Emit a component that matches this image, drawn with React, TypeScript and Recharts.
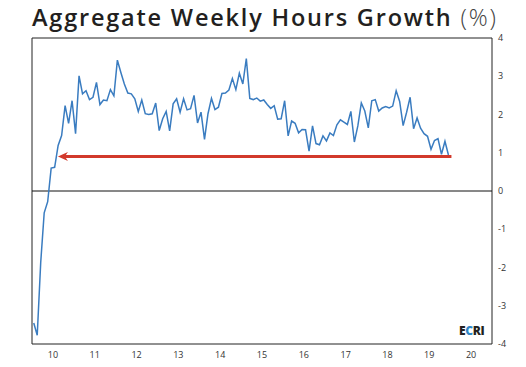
import React from 'react';
import {
  LineChart,
  Line,
  XAxis,
  YAxis,
  ReferenceLine,
  ReferenceArea,
} from 'recharts';

// monthly readings, Jan 2010 .. Dec 2019 (yoy %)
const START_YEAR = 2010;
const hoursGrowth = [
  -3.45, -3.77, -1.87, -0.57, -0.28, 0.6, 0.62, 1.19, 1.45, 2.23, 1.77, 2.36,
  1.5, 3.01, 2.54, 2.62, 2.39, 2.45, 2.84, 2.26, 2.38, 2.36, 2.65, 2.49,
  3.42, 3.1, 2.8, 2.56, 2.54, 2.41, 2.08, 2.38, 2.02, 2.0, 2.02, 2.3,
  1.58, 1.89, 2.08, 1.57, 2.28, 2.41, 2.06, 2.41, 2.12, 2.15, 2.5, 1.78,
  2.06, 1.35, 2.02, 2.42, 2.13, 2.19, 2.55, 2.56, 2.64, 2.94, 2.65, 3.08,
  2.8, 3.46, 2.42, 2.39, 2.43, 2.35, 2.38, 2.26, 2.16, 2.23, 1.88, 1.89,
  2.36, 1.44, 1.83, 1.77, 1.52, 1.61, 1.6, 1.04, 1.7, 1.24, 1.21, 1.44,
  1.31, 1.52, 1.45, 1.73, 1.86, 1.8, 1.74, 2.08, 1.28, 1.7, 2.3, 2.09,
  1.65, 2.36, 2.39, 2.09, 2.17, 2.21, 2.17, 2.22, 2.62, 2.34, 1.71, 2.06,
  2.45, 1.63, 1.91, 1.64, 1.5, 1.43, 1.09, 1.32, 1.37, 0.96, 1.3, 0.94,
];

const yearBreaks = [2011, 2012, 2013, 2014, 2015, 2016, 2017, 2018, 2019, 2020];
const yearLabelPos = [2010.5, 2011.5, 2012.5, 2013.5, 2014.5, 2015.5, 2016.5, 2017.5, 2018.5, 2019.5, 2020.5];
const yTicks = [-4, -3, -2, -1, 0, 1, 2, 3, 4];

// red arrow annotation (data coords)
const arrowLevel = 0.9;
const arrowFrom = 2020.03;
const arrowTo = 2010.62;

const data = hoursGrowth.map((v, i) => ({ t: START_YEAR + (i + 0.5) / 12, v }));

const FONT = '"Open Sans", "Noto Sans", sans-serif';
const tickStyle = { fontSize: 9, fill: '#333', fontFamily: FONT };

const NoLabel = () => <g />;

function Arrow(props: any) {
  const { x1, y1, x2 } = props;
  const tip = Math.min(x1, x2);
  const end = Math.max(x1, x2);
  const y = y1;
  return (
    <g>
      <line x1={tip + 6} y1={y} x2={end} y2={y} stroke="#d2392b" strokeWidth={3} />
      <polygon
        points={`${tip},${y} ${tip + 10},${y - 4.5} ${tip + 7},${y} ${tip + 10},${y + 4.5}`}
        fill="#d2392b"
      />
    </g>
  );
}

export default function App() {
  return (
    <div style={{ position: 'absolute', left: 0, top: 0, width: 526, height: 367, background: '#fff' }}>
      <div
        style={{
          position: 'absolute',
          left: 32,
          top: 6,
          fontFamily: FONT,
          fontSize: 23.5,
          lineHeight: 1,
          fontWeight: 600,
          letterSpacing: 1.8,
          color: '#231f20',
          whiteSpace: 'nowrap',
        }}
      >
        Aggregate Weekly Hours Growth <span style={{ fontWeight: 300, color: '#444' }}>(%)</span>
      </div>
      <LineChart
        width={526}
        height={367}
        data={data}
        margin={{ top: 38, left: 32, right: 4, bottom: 3 }}
        style={{ position: 'absolute', left: 0, top: 0 }}
      >
        <XAxis
          xAxisId="marks"
          dataKey="t"
          type="number"
          domain={[2010, 2021]}
          ticks={yearBreaks}
          mirror
          height={0}
          tickSize={4}
          tick={NoLabel}
          axisLine={{ stroke: '#222' }}
          tickLine={{ stroke: '#222' }}
        />
        <XAxis
          xAxisId="years"
          dataKey="t"
          type="number"
          domain={[2010, 2021]}
          ticks={yearLabelPos}
          height={20}
          tickSize={4}
          tickMargin={4}
          tickLine={false}
          axisLine={false}
          tick={tickStyle}
          tickFormatter={(v: number) => String(Math.floor(v) % 100)}
        />
        <YAxis
          yAxisId="marks"
          orientation="right"
          domain={[-4, 4]}
          ticks={yTicks}
          mirror
          width={0}
          tickSize={4}
          tick={NoLabel}
          axisLine={{ stroke: '#222' }}
          tickLine={{ stroke: '#222' }}
        />
        <YAxis
          yAxisId="vals"
          orientation="right"
          domain={[-4, 4]}
          ticks={yTicks}
          width={30}
          tickSize={2}
          tickMargin={4}
          tickLine={false}
          axisLine={false}
          tick={tickStyle}
        />
        <ReferenceArea
          xAxisId="years"
          yAxisId="vals"
          x1={2010}
          x2={2021}
          y1={-4}
          y2={4}
          fill="none"
          stroke="#222"
          strokeWidth={1}
        />
        <ReferenceLine xAxisId="years" yAxisId="vals" y={0} stroke="#111" strokeWidth={1} />
        <Line
          xAxisId="years"
          yAxisId="vals"
          type="linear"
          dataKey="v"
          stroke="#3a7cc0"
          strokeWidth={1.5}
          dot={false}
          isAnimationActive={false}
        />
        <ReferenceLine
          xAxisId="years"
          yAxisId="vals"
          segment={[
            { x: arrowFrom, y: arrowLevel },
            { x: arrowTo, y: arrowLevel },
          ]}
          shape={Arrow}
        />
      </LineChart>
      <div
        style={{
          position: 'absolute',
          left: 459,
          top: 325,
          fontFamily: FONT,
          fontSize: 12,
          fontWeight: 800,
          lineHeight: 1,
          color: '#231f20',
          letterSpacing: -0.3,
        }}
      >
        E<span style={{ color: '#2e86c8' }}>C</span>RI
      </div>
    </div>
  );
}
